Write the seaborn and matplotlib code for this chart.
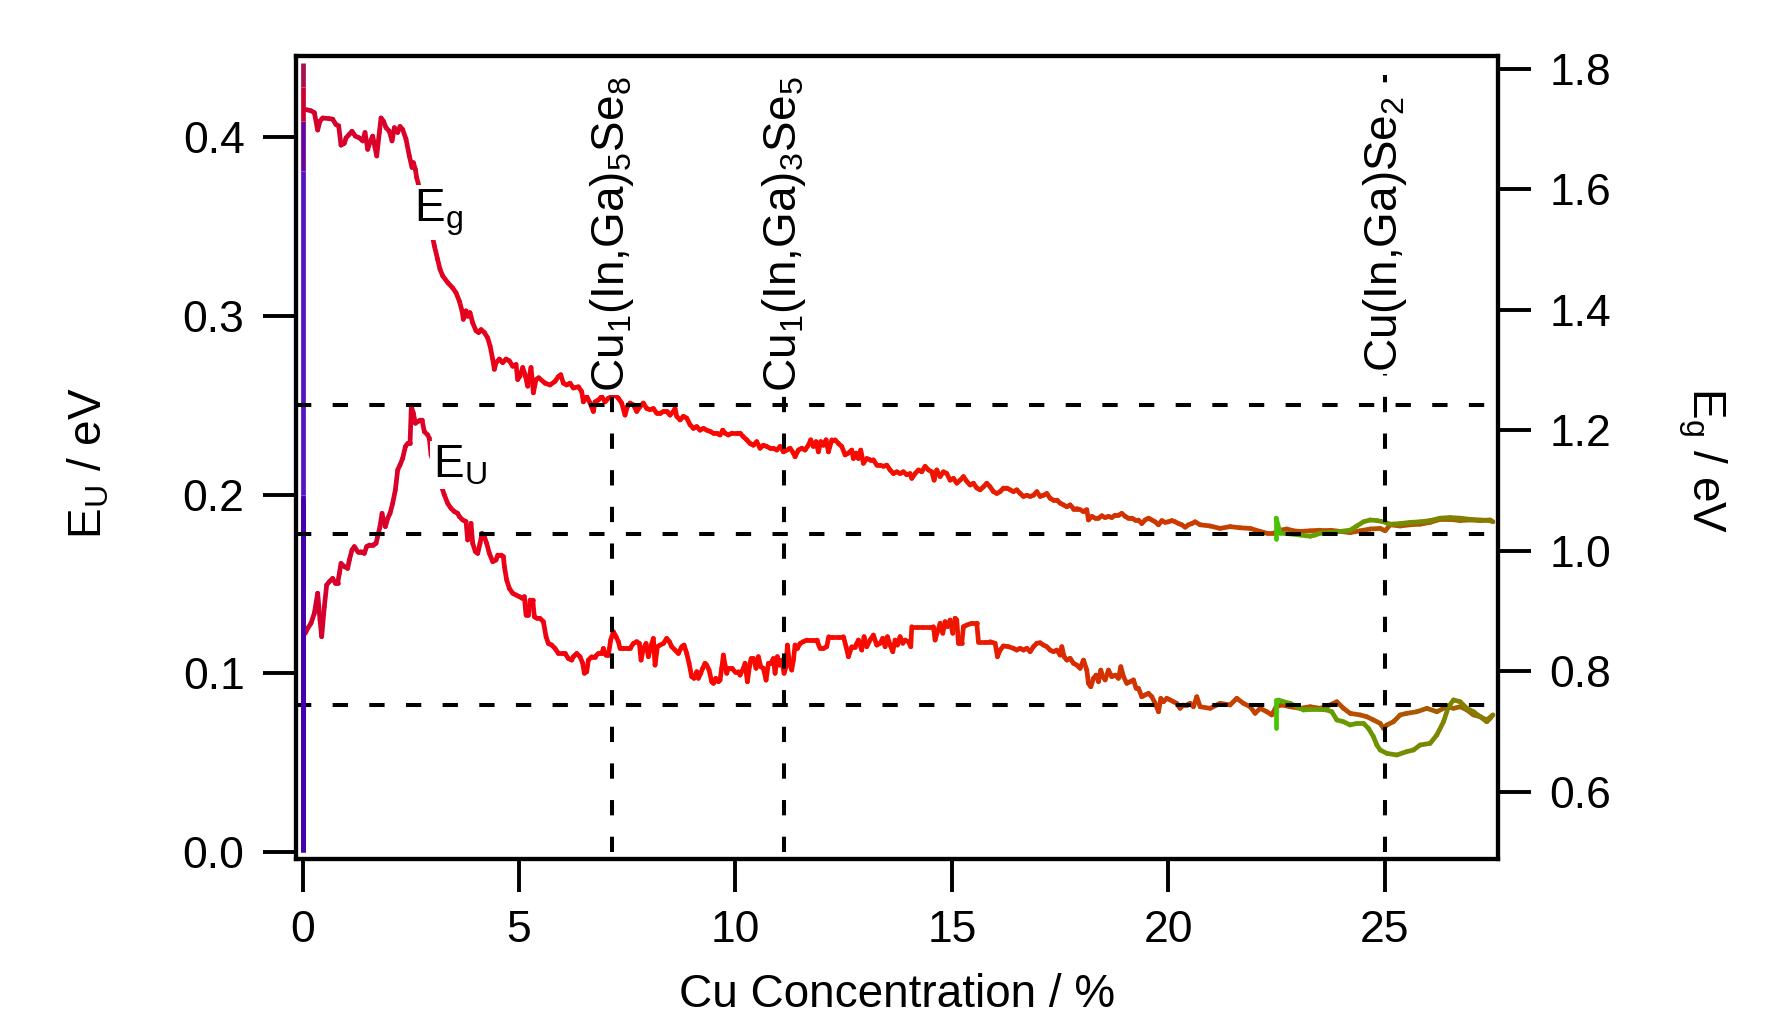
import numpy as np
import pandas as pd
import matplotlib
matplotlib.use("Agg")
import matplotlib.pyplot as plt
import seaborn as sns
from matplotlib.colors import to_rgb, to_hex

# ---------------------------------------------------------------------------
# In-situ optical analysis during Cu deposition: band gap Eg (right axis) and
# Urbach energy EU (left axis) versus integral Cu concentration.
# ---------------------------------------------------------------------------

# Eg, Cu-poor -> Cu-rich sweep
eg_fwd_x = [
    0.076, 0.192, 0.269, 0.346, 0.400, 0.462, 0.616, 0.693, 0.770, 0.831,
    0.885, 0.962, 1.001, 1.078, 1.139, 1.216, 1.309, 1.386, 1.440, 1.502,
    1.555, 1.617, 1.671, 1.710, 1.771, 1.810, 1.864, 1.925, 2.002, 2.064,
    2.118, 2.195, 2.249, 2.310, 2.387, 2.464, 2.526, 2.557, 2.603, 2.634,
    3.004, 3.042, 3.119, 3.173, 3.235, 3.350, 3.466, 3.543, 3.620, 3.682,
    3.712, 3.774, 3.813, 3.866, 3.928, 4.005, 4.067, 4.121, 4.198, 4.275,
    4.329, 4.390, 4.429, 4.467, 4.544, 4.621, 4.698, 4.776, 4.853, 4.930,
    4.968, 5.022, 5.084, 5.145, 5.199, 5.238, 5.276, 5.330, 5.392, 5.453,
    5.600, 5.715, 5.831, 5.908, 5.962, 6.023, 6.100, 6.177, 6.254, 6.370,
    6.447, 6.485, 6.563, 6.640, 6.717, 6.755, 6.832, 6.909, 6.986, 7.063,
    7.140, 7.217, 7.294, 7.371, 7.448, 7.502, 7.564, 7.641, 7.718, 7.795,
    7.872, 7.949, 8.026, 8.103, 8.180, 8.257, 8.334, 8.411, 8.488, 8.565,
    8.604, 8.642, 8.720, 8.797, 8.874, 8.951, 9.028, 9.105, 9.182, 9.259,
    9.336, 9.413, 9.490, 9.567, 9.644, 9.706, 9.759, 9.836, 9.913, 10.029,
    10.106, 10.183, 10.260, 10.337, 10.414, 10.491, 10.568, 10.645, 10.722, 10.800,
    10.877, 10.954, 11.031, 11.108, 11.185, 11.262, 11.339, 11.377, 11.454, 11.531,
    11.608, 11.685, 11.739, 11.801, 11.862, 11.916, 11.970, 12.032, 12.094, 12.148,
    12.225, 12.302, 12.379, 12.456, 12.533, 12.610, 12.687, 12.725, 12.787, 12.841,
    12.895, 12.956, 13.033, 13.110, 13.187, 13.265,
    13.342, 13.419, 13.496, 13.573, 13.650, 13.727, 13.804, 13.881, 13.958, 14.035,
    14.074, 14.151, 14.228, 14.305, 14.382, 14.459, 14.536, 14.590, 14.652, 14.729,
    14.806, 14.883, 14.960, 15.037, 15.114, 15.191, 15.268, 15.345, 15.422, 15.499,
    15.576, 15.653, 15.730, 15.807, 15.884, 15.961, 16.038, 16.115, 16.192, 16.269,
    16.346, 16.423, 16.500, 16.578, 16.655, 16.732, 16.809, 16.886, 16.963, 17.040,
    17.117, 17.194, 17.271, 17.348, 17.425, 17.502, 17.579, 17.656, 17.733, 17.810,
    17.887, 17.964, 18.041, 18.118, 18.157, 18.234, 18.311, 18.388, 18.465, 18.542,
    18.619, 18.696, 18.773, 18.850, 18.927, 19.004, 19.081, 19.158, 19.235, 19.312,
    19.389, 19.466, 19.544, 19.621, 19.698, 19.775, 19.852, 19.929, 20.006, 20.083,
    20.160, 20.237, 20.314, 20.391, 20.468, 20.545, 20.622,
    20.737, 20.968, 21.199, 21.430, 21.661, 21.893, 22.124, 22.278, 22.432, 22.586,
    22.740, 22.894, 23.048, 23.279, 23.510, 23.741, 23.973, 24.204, 24.435, 24.666,
    24.897, 25.012, 25.128, 25.359, 25.590, 25.821, 26.052, 26.284, 26.515, 26.746,
    26.977, 27.208, 27.439, 27.501,
]
eg_fwd = [
    1.732, 1.730, 1.727, 1.698, 1.713, 1.718, 1.717, 1.716, 1.707, 1.705,
    1.673, 1.676, 1.685, 1.691, 1.696, 1.688, 1.685, 1.680, 1.694, 1.666,
    1.678, 1.688, 1.669, 1.655, 1.694, 1.718, 1.713, 1.702, 1.696, 1.680,
    1.702, 1.694, 1.704, 1.699, 1.683, 1.655, 1.636, 1.644, 1.633, 1.619,
    1.519, 1.506, 1.483, 1.467, 1.456, 1.445, 1.436, 1.428, 1.414, 1.398,
    1.384, 1.398, 1.389, 1.395, 1.378, 1.365, 1.362, 1.367, 1.362, 1.353,
    1.340, 1.318, 1.301, 1.312, 1.318, 1.312, 1.318, 1.315, 1.306, 1.309,
    1.284, 1.290, 1.304, 1.290, 1.273, 1.290, 1.304, 1.262, 1.284, 1.287,
    1.278, 1.275, 1.281, 1.289, 1.292, 1.278, 1.275, 1.278, 1.270, 1.272,
    1.264, 1.247, 1.256, 1.245, 1.231, 1.247, 1.250, 1.256, 1.247, 1.253,
    1.256, 1.258, 1.253, 1.245, 1.225, 1.239, 1.245, 1.242, 1.231, 1.239,
    1.245, 1.236, 1.234, 1.236, 1.228, 1.228, 1.231, 1.231, 1.225, 1.231,
    1.236, 1.223, 1.217, 1.223, 1.220, 1.209, 1.203, 1.206, 1.200, 1.203,
    1.200, 1.198, 1.195, 1.195, 1.192, 1.200, 1.195, 1.192, 1.195, 1.195,
    1.195, 1.189, 1.184, 1.178, 1.175, 1.181, 1.170, 1.175, 1.173, 1.170,
    1.170, 1.167, 1.173, 1.164, 1.167, 1.170, 1.162, 1.156, 1.167, 1.170,
    1.167, 1.175, 1.184, 1.173, 1.181, 1.164, 1.181, 1.175, 1.184, 1.164,
    1.184, 1.184, 1.178, 1.173, 1.159, 1.162, 1.167, 1.153, 1.162, 1.153,
    1.167, 1.145, 1.153, 1.151, 1.151, 1.142,
    1.142, 1.140, 1.142, 1.134, 1.128, 1.131, 1.128, 1.131, 1.126, 1.128,
    1.120, 1.128, 1.134, 1.131, 1.140, 1.134, 1.131, 1.117, 1.134, 1.123,
    1.131, 1.128, 1.117, 1.120, 1.112, 1.117, 1.123, 1.115, 1.109, 1.112,
    1.104, 1.101, 1.106, 1.112, 1.106, 1.098, 1.095, 1.098, 1.104, 1.104,
    1.101, 1.098, 1.101, 1.095, 1.090, 1.092, 1.090, 1.092, 1.098, 1.090,
    1.092, 1.095, 1.087, 1.084, 1.084, 1.079, 1.076, 1.073, 1.076, 1.070,
    1.070, 1.068, 1.065, 1.068, 1.051, 1.057, 1.054, 1.054, 1.058, 1.055,
    1.057, 1.055, 1.059, 1.059, 1.062, 1.057, 1.054, 1.054, 1.051, 1.051,
    1.045, 1.051, 1.054, 1.051, 1.048, 1.043, 1.050, 1.047, 1.048, 1.050,
    1.048, 1.045, 1.043, 1.039, 1.043, 1.045, 1.048,
    1.043, 1.041, 1.037, 1.040, 1.038, 1.037, 1.032, 1.029, 1.029, 1.034,
    1.036, 1.033, 1.032, 1.033, 1.034, 1.034, 1.032, 1.030, 1.033, 1.036,
    1.037, 1.033, 1.043, 1.041, 1.043, 1.044, 1.047, 1.052, 1.052, 1.050,
    1.051, 1.050, 1.051, 1.048,
]

# Eg, Cu-rich -> Cu-poor sweep
eg_ret_x = [27.439, 27.208, 26.977, 26.746, 26.515, 26.284, 26.052, 25.821,
            25.590, 25.359, 25.128, 24.974, 24.820, 24.666, 24.512, 24.358,
            24.204, 23.973, 23.741, 23.510, 23.395, 23.279, 23.048, 22.817,
            22.586, 22.493, 22.493]
eg_ret = [1.050, 1.051, 1.052, 1.054, 1.055, 1.054, 1.050, 1.048,
          1.047, 1.045, 1.044, 1.048, 1.050, 1.051, 1.048, 1.041,
          1.034, 1.032, 1.030, 1.029, 1.026, 1.024, 1.026, 1.028,
          1.029, 1.054, 1.019]

# EU, Cu-poor -> Cu-rich sweep
eu_fwd_x = [
    0.061, 0.115, 0.192, 0.269, 0.346, 0.400, 0.438, 0.500, 0.554, 0.616,
    0.693, 0.754, 0.808, 0.847, 0.885, 0.962, 1.039, 1.078, 1.139, 1.193,
    1.270, 1.347, 1.424, 1.478, 1.540, 1.617, 1.694, 1.732, 1.786, 1.833,
    1.863, 1.910, 1.964, 2.018, 2.079, 2.141, 2.195, 2.249, 2.310, 2.372,
    2.426, 2.480, 2.510, 2.557, 2.603, 2.657, 2.711, 2.757, 2.811, 2.888,
    2.926, 2.965, 3.273, 3.350, 3.427, 3.504, 3.581, 3.620, 3.697, 3.774,
    3.812, 3.851, 3.889, 3.928, 3.990, 4.044, 4.097, 4.144, 4.197, 4.251,
    4.313, 4.390, 4.467, 4.506, 4.583, 4.637, 4.660, 4.714, 4.775, 4.852,
    4.930, 5.007, 5.068, 5.122, 5.160, 5.214, 5.253, 5.315, 5.353, 5.407,
    5.484, 5.561, 5.623, 5.677, 5.754, 5.831, 5.908, 5.985, 6.062, 6.139,
    6.216, 6.254, 6.331, 6.408, 6.470, 6.509, 6.563, 6.601, 6.678, 6.755,
    6.832, 6.909, 6.948, 7.002, 7.063, 7.117, 7.179, 7.240, 7.294, 7.333,
    7.410, 7.487, 7.564, 7.641, 7.718, 7.780, 7.818, 7.872, 7.934, 7.988,
    8.042, 8.103, 8.142, 8.196, 8.257, 8.334, 8.411, 8.473, 8.527, 8.604,
    8.681, 8.758, 8.812, 8.874, 8.928, 8.989, 9.043, 9.105, 9.143, 9.197,
    9.243, 9.297, 9.336, 9.390, 9.451, 9.490, 9.544, 9.605, 9.644, 9.682,
    9.721, 9.759, 9.798, 9.836, 9.913, 9.991, 10.068, 10.106, 10.183, 10.222,
    10.276, 10.322, 10.360, 10.414, 10.476, 10.530, 10.584, 10.645, 10.707, 10.761,
    10.815, 10.877, 10.915, 10.969, 11.015, 11.069, 11.123, 11.169, 11.200, 11.246,
    11.300, 11.339, 11.377, 11.431, 11.493, 11.570, 11.647, 11.724, 11.801, 11.878,
    11.955, 12.032, 12.109, 12.155, 12.225, 12.379, 12.494, 12.556, 12.610, 12.687,
    12.764, 12.841, 12.918, 12.972, 13.033, 13.110, 13.187, 13.265,
    13.342, 13.404, 13.458, 13.511, 13.573, 13.635, 13.689, 13.743, 13.804, 13.866,
    13.920, 13.997, 14.051, 14.074, 14.189, 14.343, 14.498, 14.575, 14.613, 14.667,
    14.729, 14.790, 14.844, 14.898, 14.960, 15.021, 15.075, 15.114, 15.152, 15.229,
    15.268, 15.345, 15.460, 15.576, 15.615, 15.769, 15.884, 16.000, 16.054, 16.115,
    16.192, 16.308, 16.423, 16.500, 16.578, 16.655, 16.732, 16.809, 16.886, 16.963,
    17.040, 17.117, 17.194, 17.271, 17.348, 17.425, 17.502, 17.541, 17.594, 17.656,
    17.733, 17.810, 17.887, 17.964, 18.041, 18.118, 18.157, 18.211, 18.272, 18.334,
    18.388, 18.442, 18.488, 18.542, 18.619, 18.696, 18.773, 18.850, 18.904, 18.966,
    19.043, 19.120, 19.197, 19.258, 19.312, 19.389, 19.466, 19.544, 19.621, 19.698,
    19.775, 19.829, 19.890, 19.967, 20.044, 20.121, 20.198, 20.275, 20.352, 20.429,
    20.506, 20.583, 20.660,
    20.737, 20.968, 21.199, 21.430, 21.584, 21.738, 21.893, 22.008, 22.124, 22.278,
    22.393, 22.493, 22.624, 22.817, 23.048, 23.279, 23.510, 23.741, 23.895, 24.050,
    24.204, 24.435, 24.589, 24.743, 24.897, 24.974, 25.051, 25.205, 25.359, 25.513,
    25.744, 25.975, 26.207, 26.438, 26.592, 26.746, 26.900, 27.054, 27.208, 27.362,
    27.501,
]
eu_fwd = [
    0.1224, 0.1252, 0.1280, 0.1336, 0.1448, 0.1298, 0.1205, 0.1373, 0.1494, 0.1513,
    0.1531, 0.1504, 0.1504, 0.1559, 0.1615, 0.1597, 0.1587, 0.1634, 0.1690, 0.1709,
    0.1681, 0.1681, 0.1671, 0.1709, 0.1718, 0.1718, 0.1727, 0.1765, 0.1821, 0.1895,
    0.1858, 0.1821, 0.1867, 0.1895, 0.1951, 0.2026, 0.2138, 0.2166, 0.2203, 0.2268,
    0.2287, 0.2287, 0.2492, 0.2455, 0.2399, 0.2408, 0.2417, 0.2417, 0.2352, 0.2334,
    0.2315, 0.2222, 0.1998, 0.1951, 0.1923, 0.1905, 0.1895, 0.1877, 0.1858, 0.1849,
    0.1746, 0.1765, 0.1839, 0.1727, 0.1681, 0.1671, 0.1727, 0.1783, 0.1765, 0.1727,
    0.1671, 0.1625, 0.1634, 0.1662, 0.1662, 0.1653, 0.1597, 0.1522, 0.1475, 0.1448,
    0.1438, 0.1429, 0.1420, 0.1429, 0.1326, 0.1326, 0.1410, 0.1410, 0.1317, 0.1308,
    0.1307, 0.1289, 0.1205, 0.1167, 0.1158, 0.1139, 0.1111, 0.1111, 0.1111, 0.1083,
    0.1074, 0.1093, 0.1111, 0.1093, 0.1056, 0.1000, 0.1009, 0.1074, 0.1093, 0.1093,
    0.1111, 0.1111, 0.1139, 0.1102, 0.1102, 0.1186, 0.1233, 0.1205, 0.1177, 0.1139,
    0.1139, 0.1139, 0.1139, 0.1167, 0.1177, 0.1167, 0.1074, 0.1139, 0.1167, 0.1093,
    0.1149, 0.1195, 0.1046, 0.1149, 0.1158, 0.1167, 0.1195, 0.1177, 0.1149, 0.1130,
    0.1111, 0.1149, 0.1158, 0.1111, 0.1056, 0.0981, 0.0972, 0.1009, 0.0972, 0.1000,
    0.1028, 0.1056, 0.1046, 0.1018, 0.0953, 0.0944, 0.0972, 0.0953, 0.0962, 0.1028,
    0.1102, 0.1046, 0.1000, 0.1028, 0.1028, 0.1009, 0.1009, 0.0990, 0.1028, 0.1056,
    0.0953, 0.1037, 0.1083, 0.1083, 0.1028, 0.1093, 0.1037, 0.1028, 0.0962, 0.1056,
    0.1056, 0.1083, 0.1000, 0.1093, 0.1046, 0.1074, 0.1000, 0.1037, 0.1158, 0.1056,
    0.1018, 0.1074, 0.1158, 0.1139, 0.1167, 0.1177, 0.1186, 0.1186, 0.1186, 0.1186,
    0.1139, 0.1139, 0.1149, 0.1205, 0.1205, 0.1205, 0.1205, 0.1149, 0.1093, 0.1149,
    0.1149, 0.1186, 0.1130, 0.1205, 0.1149, 0.1186, 0.1214, 0.1158,
    0.1168, 0.1196, 0.1149, 0.1205, 0.1158, 0.1121, 0.1186, 0.1158, 0.1205, 0.1168,
    0.1186, 0.1177, 0.1149, 0.1261, 0.1261, 0.1261, 0.1261, 0.1261, 0.1186, 0.1233,
    0.1280, 0.1224, 0.1289, 0.1261, 0.1298, 0.1224, 0.1308, 0.1298, 0.1168, 0.1168,
    0.1261, 0.1270, 0.1280, 0.1280, 0.1177, 0.1177, 0.1177, 0.1168, 0.1093, 0.1130,
    0.1153, 0.1149, 0.1140, 0.1130, 0.1140, 0.1130, 0.1140, 0.1121, 0.1149, 0.1168,
    0.1171, 0.1158, 0.1149, 0.1130, 0.1121, 0.1130, 0.1102, 0.1149, 0.1093, 0.1074,
    0.1084, 0.1056, 0.1046, 0.1028, 0.1074, 0.1018, 0.0944, 0.0925, 0.0972, 0.0990,
    0.0953, 0.1018, 0.0981, 0.0963, 0.1018, 0.0981, 0.0990, 0.0972, 0.1037, 0.0981,
    0.0944, 0.0953, 0.0963, 0.0916, 0.0916, 0.0869, 0.0879, 0.0888, 0.0869, 0.0832,
    0.0785, 0.0860, 0.0841, 0.0860, 0.0851, 0.0841, 0.0832, 0.0804, 0.0823, 0.0823,
    0.0832, 0.0813, 0.0869,
    0.0813, 0.0804, 0.0832, 0.0823, 0.0860, 0.0832, 0.0813, 0.0776, 0.0804, 0.0785,
    0.0767, 0.0813, 0.0823, 0.0813, 0.0804, 0.0813, 0.0804, 0.0823, 0.0841, 0.0804,
    0.0776, 0.0767, 0.0757, 0.0739, 0.0720, 0.0692, 0.0711, 0.0729, 0.0767, 0.0776,
    0.0785, 0.0804, 0.0785, 0.0813, 0.0804, 0.0813, 0.0795, 0.0767, 0.0757, 0.0739,
    0.0767,
]

# EU, Cu-rich -> Cu-poor sweep
eu_ret_x = [27.439, 27.362, 27.208, 27.054, 26.900, 26.746, 26.592, 26.476,
            26.361, 26.207, 26.052, 25.821, 25.667, 25.513, 25.282, 25.051,
            24.897, 24.820, 24.743, 24.627, 24.512, 24.358, 24.204, 24.050,
            23.895, 23.780, 23.664, 23.510, 23.279, 23.125, 22.971, 22.817,
            22.663, 22.547, 22.493, 22.493]
eu_ret = [0.0748, 0.0729, 0.0757, 0.0785, 0.0804, 0.0841, 0.0851, 0.0813,
          0.0729, 0.0655, 0.0608, 0.0599, 0.0571, 0.0562, 0.0543, 0.0552,
          0.0571, 0.0599, 0.0645, 0.0692, 0.0720, 0.0720, 0.0711, 0.0729,
          0.0739, 0.0785, 0.0795, 0.0798, 0.0798, 0.0795, 0.0813, 0.0832,
          0.0841, 0.0851, 0.0851, 0.0692]

# values recorded at 0 % Cu (before the Cu supply starts)
eg_onset = [0.50, 1.093, 1.63, 1.713, 1.77, 1.81]
eu_onset = [0.0, 0.198]

# phase compositions (Cu content in %)
phase_x = [7.14, 11.11, 25.0]
phase_labels = [r"Cu$_1$(In,Ga)$_5$Se$_8$", r"Cu$_1$(In,Ga)$_3$Se$_5$",
                r"Cu(In,Ga)Se$_2$"]
eg_ref_levels = [1.242, 1.028]
eu_ref_levels = [0.0823]

x_ticks = [0, 5, 10, 15, 20, 25]
eu_ticks = [0.0, 0.1, 0.2, 0.3, 0.4]
eg_ticks = [0.6, 0.8, 1.0, 1.2, 1.4, 1.6, 1.8]

# ---------------------------------------------------------------------------
sns.set_theme(style="ticks")
plt.rcParams.update({
    "font.family": ["Liberation Sans", "DejaVu Sans"],
    "mathtext.fontset": "custom",
    "mathtext.rm": "Liberation Sans",
    "mathtext.it": "Liberation Sans:italic",
    "mathtext.bf": "Liberation Sans:bold",
    "mathtext.default": "regular",
    "text.color": "black",
    "axes.labelcolor": "black",
    "axes.edgecolor": "black",
    "axes.linewidth": 3.0,
    "xtick.color": "black",
    "ytick.color": "black",
    "xtick.labelcolor": "black",
    "ytick.labelcolor": "black",
})

FS_TICK = 32
FS_TEXT = 33
LW_CURVE = 3.4
DASH = (0, (3.8, 5.3))


def ramp(anchor_x, anchor_c):
    xs = np.asarray(anchor_x, float)
    rgb = np.array([to_rgb(c) for c in anchor_c])

    def colour(x):
        return to_hex([float(np.interp(x, xs, rgb[:, k])) for k in range(3)])
    return colour


# colour follows the deposition time: Cu-poor (crimson) -> Cu-rich -> back
forward_colour = ramp(
    [0.0, 2.5, 5.0, 8.0, 13.0, 16.0, 18.5, 21.0, 24.0, 26.0, 27.5],
    ["#d4002e", "#dc0028", "#ee0014", "#fc0400", "#f80a00", "#e81c00",
     "#d43000", "#c83e00", "#bc4a00", "#aa5a00", "#927000"])
return_colour = ramp(
    [22.493, 22.6, 23.5, 24.5, 25.5, 26.5, 27.5],
    ["#46c400", "#5ca800", "#649e00", "#6c9600", "#768c00", "#808200",
     "#8a7800"])


def segment_table(xs, ys, colour_of, tag):
    rows, pal = [], {}
    for i in range(len(xs) - 1):
        key = f"{tag}{i:04d}"
        pal[key] = colour_of(0.5 * (xs[i] + xs[i + 1]))
        rows.append((xs[i], ys[i], key))
        rows.append((xs[i + 1], ys[i + 1], key))
    return pd.DataFrame(rows, columns=["x", "y", "seg"]), pal


def draw_sweep(axis, fx, fy, rx, ry, tag):
    df_f, pal_f = segment_table(fx, fy, forward_colour, tag + "f")
    df_r, pal_r = segment_table([fx[-1]] + rx, [fy[-1]] + ry,
                                return_colour, tag + "r")
    df = pd.concat([df_f, df_r], ignore_index=True)
    pal = {**pal_f, **pal_r}
    sns.lineplot(data=df, x="x", y="y", hue="seg", palette=pal,
                 estimator=None, sort=False, legend=False, ax=axis,
                 linewidth=LW_CURVE, solid_capstyle="round",
                 solid_joinstyle="round", zorder=2)


fig = plt.figure(figsize=(17.9, 10.15), dpi=100)
ax = fig.add_axes([0.16536, 0.15369, 0.67151, 0.79113])
ax2 = ax.twinx()

# onset columns at 0 % Cu
onset_cols = ["#4400b0", "#5514c4", "#6a04a0", "#d0002e", "#a8104e"]
for i, c in enumerate(onset_cols):
    ax2.plot([0.0, 0.0], eg_onset[i:i + 2], color=c, lw=LW_CURVE,
             solid_capstyle="butt", zorder=2)
ax.plot([0.0, 0.0], eu_onset, color="#4400b0", lw=LW_CURVE,
        solid_capstyle="butt", zorder=2)

draw_sweep(ax, eu_fwd_x, eu_fwd, eu_ret_x, eu_ret, "eu")
draw_sweep(ax2, eg_fwd_x, eg_fwd, eg_ret_x, eg_ret, "eg")

# reference levels
for lv in eu_ref_levels:
    ax.axhline(lv, color="black", lw=2.9, ls=DASH, zorder=3)
for lv in eg_ref_levels:
    ax2.axhline(lv, color="black", lw=2.9, ls=DASH, zorder=3)

# phase markers
xtr = ax2.get_xaxis_transform()
label_bottom = [0.581, 0.581, 0.607]
for xp, lab, yb in zip(phase_x, phase_labels, label_bottom):
    ax2.plot([xp, xp], [0.0087, 0.9762], transform=xtr, color="black",
             lw=2.9, ls=DASH, zorder=3)
    ax2.text(xp, yb, lab, transform=xtr, rotation=90, ha="center",
             va="bottom", fontsize=FS_TEXT, zorder=6,
             bbox=dict(facecolor="white", edgecolor="none", pad=2))

# curve labels
ax2.text(2.572, 1.547, r"E$_g$", ha="left", va="baseline", fontsize=FS_TEXT,
         zorder=6, bbox=dict(facecolor="white", edgecolor="none", pad=1.5))
ax.text(3.004, 0.2098, r"E$_U$", ha="left", va="baseline", fontsize=FS_TEXT,
        zorder=6, bbox=dict(facecolor="white", edgecolor="none", pad=1.5))

# axes
ax.set_xlim(-0.155, 27.62)
ax.set_ylim(-0.0039, 0.4454)
ax2.set_ylim(0.4884, 1.8209)
ax.set_xticks(x_ticks)
ax.set_xticklabels([f"{v:d}" for v in x_ticks])
ax.set_yticks(eu_ticks)
ax.set_yticklabels([f"{v:.1f}" for v in eu_ticks])
ax2.set_yticks(eg_ticks)
ax2.set_yticklabels([f"{v:.1f}" for v in eg_ticks])

ax.tick_params(axis="both", direction="out", length=24, width=2.8,
               labelsize=FS_TICK, pad=13, top=False, right=False,
               colors="black")
ax2.tick_params(axis="y", direction="out", length=24, width=2.8,
                labelsize=FS_TICK, pad=13, left=False, right=True,
                colors="black")
for a in (ax, ax2):
    for sp in a.spines.values():
        sp.set_visible(True)
        sp.set_linewidth(3.0)
        sp.set_color("black")
    a.grid(False)

ax.set_xlabel("")
ax.set_ylabel("")
ax2.set_ylabel("")
ax.text(0.5, -0.1848, "Cu Concentration / %", transform=ax.transAxes,
        ha="center", va="baseline", fontsize=FS_TEXT, color="black")
ax.text(-0.1726, 0.4925, r"E$_U$ / eV", transform=ax.transAxes,
        rotation=90, ha="center", va="center", fontsize=FS_TEXT,
        color="black")
ax2.text(1.1697, 0.4963, r"E$_g$ / eV", transform=ax2.transAxes,
         rotation=-90, ha="center", va="center", fontsize=FS_TEXT,
         color="black")

fig.savefig("out.png", dpi=100, facecolor="white")
